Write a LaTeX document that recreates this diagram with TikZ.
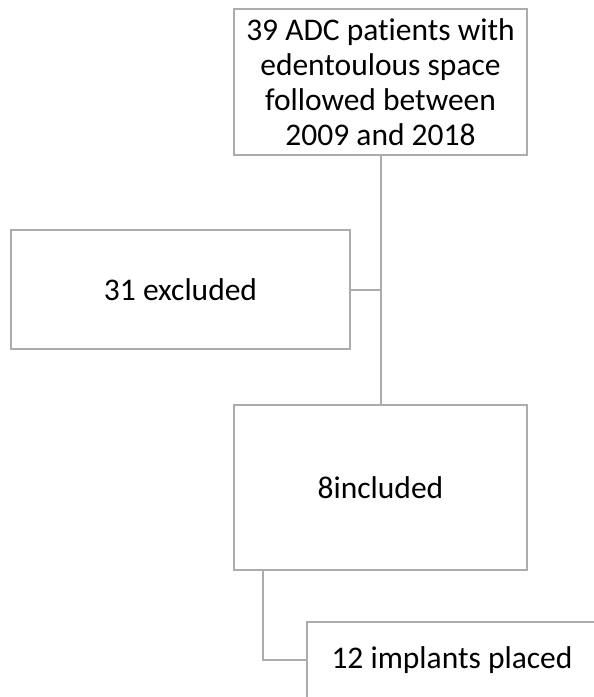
\documentclass[tikz,border=0pt]{standalone}
\usepackage{fontspec}
\setmainfont[Ligatures={NoCommon}]{Carlito}
\definecolor{boxgray}{RGB}{172,172,172}
\begin{document}
\begin{tikzpicture}[x=1pt,y=-1pt,
  box/.style={draw=boxgray, line width=2pt, fill=white, align=center,
    font=\fontsize{31.5}{35}\selectfont, inner sep=0pt, outer sep=0pt},
  conn/.style={draw=boxgray, line width=2pt}]
\useasboundingbox (0,0) rectangle (594,697);
\node[box, minimum width=293pt, minimum height=146pt] (top) at (380.5,82)
  {39 ADC patients with\\edentoulous space\\followed between\\2009 and 2018};
\node[box, minimum width=339pt, minimum height=119pt] (excl) at (180.5,289.5) {31 excluded};
\node[box, minimum width=293pt, minimum height=165pt] (inc) at (380.5,487.5) {8included};
\node[box, minimum width=290pt, minimum height=76pt] (impl) at (452,660) {12 implants placed};
\draw[conn] (top.south) -- (inc.north);
\draw[conn] (excl.east) -- (excl.east -| top.south);
\draw[conn] ([xshift=29pt]inc.south west) |- (impl.west);
\end{tikzpicture}
\end{document}
